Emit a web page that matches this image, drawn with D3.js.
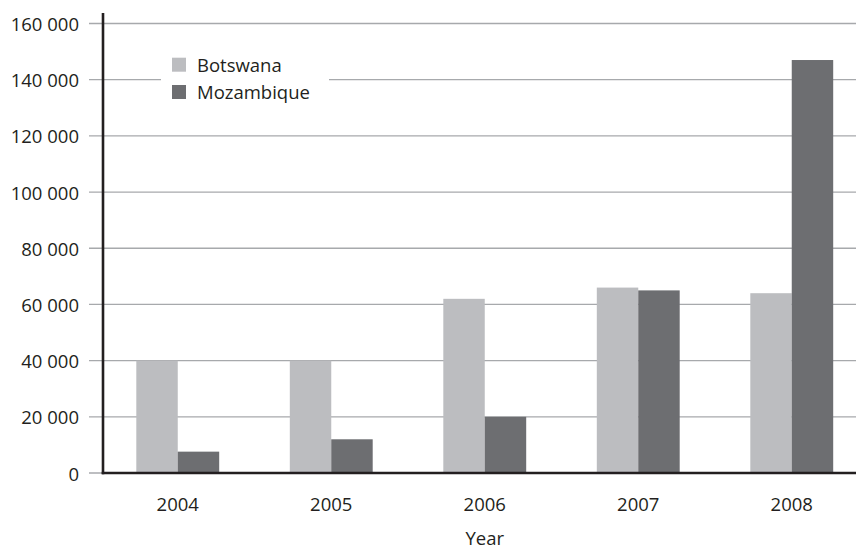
<!DOCTYPE html>
<html>
<head>
<meta charset="utf-8">
<script src="https://cdn.jsdelivr.net/npm/d3@7"></script>
<style>
  html, body { margin: 0; padding: 0; background: #fff; }
  svg { display: block; font-family: "Open Sans", sans-serif; }
</style>
</head>
<body>
<svg id="chart" width="856" height="549"></svg>
<script>
const years = ["2004", "2005", "2006", "2007", "2008"];
const seriesNames = ["Botswana", "Mozambique"];
const botswana = [40000, 40000, 62000, 66000, 64000];
const mozambique = [7600, 12000, 20000, 65000, 147000];
const yTicks = [0, 20000, 40000, 60000, 80000, 100000, 120000, 140000, 160000];
const xTitle = "Year";

const colors = {Botswana: "#bcbdc0", Mozambique: "#6d6e71"};
const svg = d3.select("#chart");

const axisX = 103, rightX = 856, gridStart = 89;
const y = d3.scaleLinear().domain([0, 160000]).range([473, 23.5]);
const x = d3.scaleBand().domain(years).range([101, 868.5]).paddingInner(0.46).paddingOuter(0.23);
const xs = d3.scaleBand().domain(seriesNames).range([0, x.bandwidth()]);

const fmt = v => d3.format(",")(v).replace(/,/g, " ");

// gridlines
svg.append("g").selectAll("line").data(yTicks).join("line")
  .attr("x1", gridStart).attr("x2", rightX)
  .attr("y1", d => y(d)).attr("y2", d => y(d))
  .attr("stroke", "#a7a9ac").attr("stroke-width", 1.3);

// tick labels
svg.append("g").selectAll("text").data(yTicks).join("text")
  .attr("x", 79).attr("y", d => y(d))
  .attr("text-anchor", "end").attr("dominant-baseline", "central")
  .attr("font-size", 18.5).attr("fill", "#231f20")
  .text(fmt);

// bars
const data = years.map((yr, i) => ({year: yr, values: [
  {name: "Botswana", value: botswana[i]},
  {name: "Mozambique", value: mozambique[i]}]}));

svg.append("g").selectAll("g").data(data).join("g")
  .attr("transform", d => `translate(${x(d.year)},0)`)
  .selectAll("rect").data(d => d.values).join("rect")
  .attr("x", d => xs(d.name)).attr("width", xs.bandwidth())
  .attr("y", d => y(d.value)).attr("height", d => y(0) - y(d.value))
  .attr("fill", d => colors[d.name]);

// axes lines
svg.append("line").attr("x1", axisX).attr("x2", axisX).attr("y1", 13).attr("y2", y(0) + 1.3)
  .attr("stroke", "#231f20").attr("stroke-width", 2.6);
svg.append("line").attr("x1", axisX - 1.3).attr("x2", rightX).attr("y1", y(0)).attr("y2", y(0))
  .attr("stroke", "#231f20").attr("stroke-width", 2.6);

// x labels
svg.append("g").selectAll("text").data(years).join("text")
  .attr("x", d => x(d) + x.bandwidth() / 2).attr("y", 511)
  .attr("text-anchor", "middle").attr("font-size", 18.5).attr("fill", "#231f20")
  .text(d => d);

svg.append("text").attr("x", (x(years[0]) + x(years[4]) + x.bandwidth()) / 2).attr("y", 545)
  .attr("text-anchor", "middle").attr("font-size", 18.5).attr("fill", "#231f20")
  .text(xTitle);

// legend
const lg = svg.append("g");
lg.append("rect").attr("x", 161).attr("y", 50).attr("width", 168).attr("height", 56).attr("fill", "#fff");
seriesNames.forEach((n, i) => {
  const yy = 57.7 + i * 27.3;
  lg.append("rect").attr("x", 172).attr("y", yy).attr("width", 14).attr("height", 14).attr("fill", colors[n]);
  lg.append("text").attr("x", 197).attr("y", yy + 14.3).attr("font-size", 18.5).attr("fill", "#231f20").text(n);
});
</script>
</body>
</html>
